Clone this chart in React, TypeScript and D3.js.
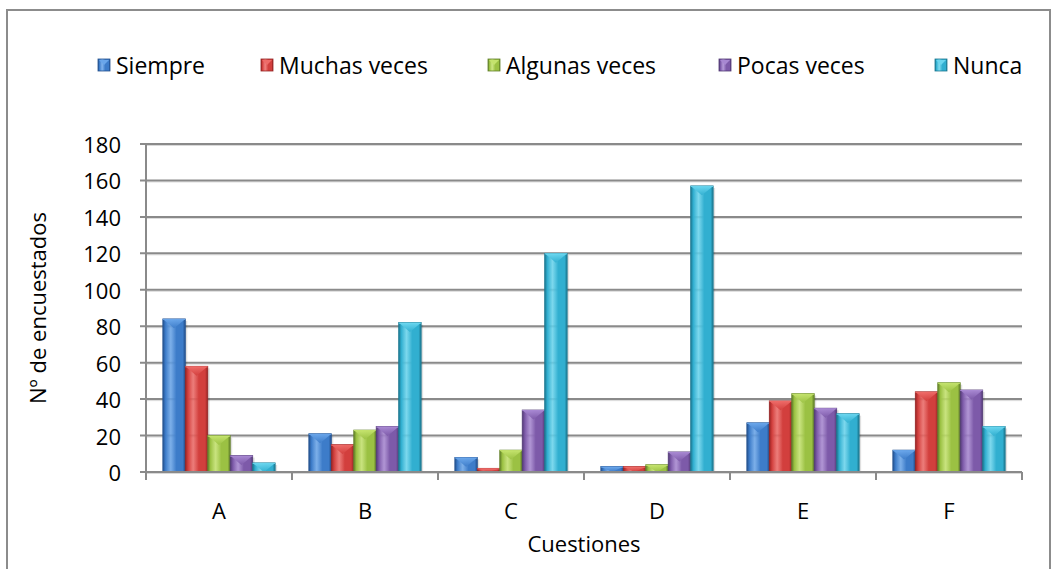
import React from "react";
import * as d3 from "d3";

const categories = ["A", "B", "C", "D", "E", "F"];
const seriesNames = ["Siempre", "Muchas veces", "Algunas veces", "Pocas veces", "Nunca"];
const siempre = [84, 21, 8, 3, 27, 12];
const muchas = [58, 15, 2, 3, 39, 44];
const algunas = [20, 23, 12, 4, 43, 49];
const pocas = [9, 25, 34, 11, 35, 45];
const nunca = [5, 82, 120, 157, 32, 25];
const yTicks = [0, 20, 40, 60, 80, 100, 120, 140, 160, 180];

const seriesValues = [siempre, muchas, algunas, pocas, nunca];
const colors = [
  { base: "#3d7cc9", dark: "#24528f", light: "#6aa6ea" },
  { base: "#d23f3d", dark: "#962424", light: "#ee6b68" },
  { base: "#9bc143", dark: "#62802a", light: "#c4e36d" },
  { base: "#7d5aa9", dark: "#523a75", light: "#a888d2" },
  { base: "#31afd0", dark: "#1c7891", light: "#6ad6ef" },
];

const W = 1053;
const H = 569;
const M = { left: 146, right: 1022, top: 144, bottom: 472 };
const FONT = "Open Sans, sans-serif";

export default function App() {
  const x0 = d3.scaleBand<string>().domain(categories).range([M.left, M.right]).paddingInner(0).paddingOuter(0);
  const barW = x0.bandwidth() / (5 + 1.5);
  const y = d3.scaleLinear().domain([0, 180]).range([M.bottom, M.top]);

  const legendX = [98, 261, 488, 719, 935];

  return (
    <svg width={W} height={H} style={{ position: "absolute", left: 0, top: 0 }}>
      <defs>
        {colors.map((c, i) => (
          <linearGradient key={i} id={`g${i}`} x1="0" x2="1" y1="0" y2="0">
            <stop offset="0" stopColor={c.dark} />
            <stop offset="0.12" stopColor={c.base} />
            <stop offset="0.35" stopColor={c.light} stopOpacity={0.85} />
            <stop offset="0.6" stopColor={c.base} />
            <stop offset="0.88" stopColor={c.base} />
            <stop offset="1" stopColor={c.dark} />
          </linearGradient>
        ))}
        {colors.map((c, i) => (
          <linearGradient key={"t" + i} id={`tg${i}`} x1="0" x2="0" y1="0" y2="1">
            <stop offset="0" stopColor={c.light} />
            <stop offset="1" stopColor={c.base} />
          </linearGradient>
        ))}
      </defs>
      <rect x={0} y={0} width={W} height={H} fill="#fff" />
      <rect x={7} y={10} width={1043} height={H + 10} fill="#fff" stroke="#8c8c8c" strokeWidth={2} />

      {/* gridlines */}
      {yTicks.map((t) => (
        <g key={t}>
          <line x1={M.left} x2={M.right} y1={y(t) + 1.5} y2={y(t) + 1.5} stroke="#d9d9d9" strokeWidth={1} />
          <line x1={M.left - 6} x2={M.right} y1={y(t)} y2={y(t)} stroke="#8a8a8a" strokeWidth={2} />
          <text x={121} y={y(t)} textAnchor="end" dominantBaseline="central" fontFamily={FONT} fontSize={22} fill="#000">
            {t}
          </text>
        </g>
      ))}
      <line x1={M.left} x2={M.left} y1={M.top} y2={M.bottom} stroke="#8a8a8a" strokeWidth={2} />

      {/* x ticks */}
      {d3.range(categories.length + 1).map((i) => {
        const xx = M.left + i * x0.step();
        return <line key={i} x1={xx} x2={xx} y1={M.bottom} y2={M.bottom + 8} stroke="#8a8a8a" strokeWidth={2} />;
      })}

      {/* bars */}
      {categories.map((cat, ci) =>
        seriesValues.map((vals, si) => {
          const v = vals[ci];
          const bx = (x0(cat) as number) + barW * 0.75 + si * barW;
          const by = y(v);
          const bh = M.bottom - by;
          const tri = Math.min(barW * 0.42, bh);
          const c = colors[si];
          return (
            <g key={cat + si}>
              <rect x={bx + 2} y={by + 2} width={barW} height={bh - 2} fill="#000" opacity={0.12} />
              <rect x={bx} y={by} width={barW} height={bh} fill={`url(#g${si})`} stroke={c.dark} strokeWidth={0.8} />
              <polygon
                points={`${bx + 0.5},${by + 0.5} ${bx + barW - 0.5},${by + 0.5} ${bx + barW / 2},${by + tri}`}
                fill={`url(#tg${si})`}
                opacity={0.95}
              />
              <line x1={bx} x2={bx + barW} y1={by + 0.5} y2={by + 0.5} stroke={c.light} strokeWidth={1} />
            </g>
          );
        })
      )}
      <line x1={M.left} x2={M.right} y1={M.bottom} y2={M.bottom} stroke="#8a8a8a" strokeWidth={2} />

      {/* x labels */}
      {categories.map((cat) => (
        <text
          key={cat}
          x={(x0(cat) as number) + x0.bandwidth() / 2}
          y={510}
          textAnchor="middle"
          dominantBaseline="central"
          fontFamily={FONT}
          fontSize={22}
        >
          {cat}
        </text>
      ))}
      <text x={(M.left + M.right) / 2} y={543} textAnchor="middle" dominantBaseline="central" fontFamily={FONT} fontSize={22}>
        Cuestiones
      </text>
      <text
        transform={`translate(37, ${(M.top + M.bottom) / 2}) rotate(-90)`}
        textAnchor="middle"
        dominantBaseline="central"
        fontFamily={FONT}
        fontSize={22}
      >
        Nº de encuestados
      </text>

      {/* legend */}
      {seriesNames.map((n, i) => (
        <g key={n} transform={`translate(${legendX[i]}, 65)`}>
          <rect x={0} y={-6} width={12} height={12} fill={`url(#g${i})`} stroke={colors[i].dark} strokeWidth={0.8} />
          <polygon points={`1,-5 11,-5 6,0`} fill={colors[i].light} />
          <text x={18} y={0} dominantBaseline="central" fontFamily={FONT} fontSize={23}>
            {n}
          </text>
        </g>
      ))}
    </svg>
  );
}
